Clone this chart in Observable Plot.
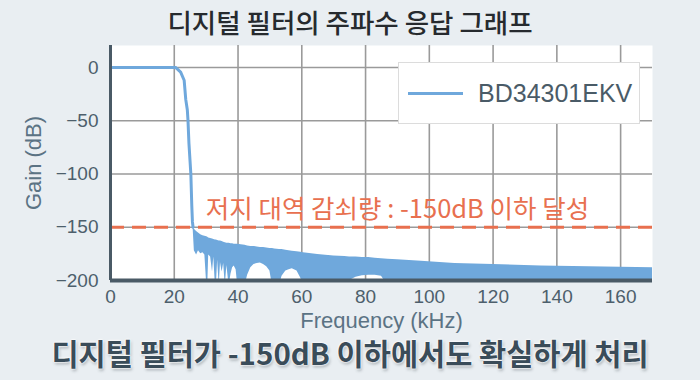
<!DOCTYPE html>
<html>
<head>
<meta charset="utf-8">
<script src="https://cdn.jsdelivr.net/npm/d3@7"></script>
<script src="https://cdn.jsdelivr.net/npm/@observablehq/plot@0.6"></script>
<style>
  html, body { margin: 0; padding: 0; }
  body { width: 700px; height: 380px; background: #e9eef2; position: relative; overflow: hidden; }
  #chart { position: absolute; left: 0; top: 0; }
  .title { position: absolute; left: 0; width: 700px; top: 5px; text-align: center;
    font-family: "Noto Sans CJK KR", sans-serif; font-weight: 500; font-size: 26.5px; color: #262a2e; line-height: 34px; }
  .caption { position: absolute; left: 0; width: 700px; top: 337px; text-align: center;
    font-family: "Noto Sans CJK KR", sans-serif; font-weight: 700; font-size: 29.5px; color: #3a4c59; line-height: 30px;
    text-shadow: 0 0 2px #fff, 0 0 2px #fff, 0 0 3px #fff, 1px 2px 3px rgba(60,70,80,0.45); }
  .legend { position: absolute; left: 398px; top: 62px; width: 242px; height: 62px; background: #fff;
    border: 1px solid #dcdcdc; box-sizing: border-box; }
  .legend .sw { position: absolute; left: 9px; top: 29px; width: 55px; height: 3px; background: #6fa8dc; }
  .legend .lb { position: absolute; left: 79px; top: 14px; font-family: "Liberation Sans", Arial, sans-serif;
    font-size: 25px; color: #4a5b67; line-height: 32px; }
</style>
</head>
<body>
<div id="chart"></div>
<div class="title">디지털 필터의 주파수 응답 그래프</div>
<div class="legend"><div class="sw"></div><div class="lb">BD34301EKV</div></div>
<div class="caption">디지털 필터가 -150dB 이하에서도 확실하게 처리</div>
<script>
// ---- data ----
const seriesName = "BD34301EKV";
const xTicks = [0, 20, 40, 60, 80, 100, 120, 140, 160];
const yTicks = [0, -50, -100, -150, -200];
// passband + transition (kHz, dB)
const passFreq = [0, 20.4, 22.0, 23.1, 23.6, 24.1, 24.3, 24.6, 25.2, 25.5, 25.7, 25.9];
const passGain = [0, 0, -4.4, -12, -30, -40, -49.5, -71, -100, -130, -145, -150];
// stopband: dense ripple drawn as band between lower and upper envelope
const stopFreq = [25.9, 26.3, 27, 27.6, 28.3, 29, 29.6, 30.2, 30.5, 30.8, 31.4, 32, 32.4, 32.9, 33.2, 33.6, 34.1, 34.5, 35, 35.5, 36, 36.5, 37.2, 37.8, 38.3, 38.8, 39.4, 39.9, 41, 42.2, 43, 44, 45, 46, 47, 48, 49, 50, 50.8, 51.5, 53, 53.8, 55, 56, 57, 58.5, 59.7, 60.5, 65, 70, 73.5, 75, 77, 79, 81, 83, 85, 87, 90, 97.5, 108, 120, 135, 150, 170];
const stopUpper = [-150, -152, -154, -155.5, -157, -158, -158.5, -159, -159.5, -160, -160.5, -161, -161.5, -162, -162, -162.5, -163, -163, -163.5, -164, -164.5, -165, -165, -165.5, -165.5, -166, -166, -166, -166.5, -167, -167.5, -168, -168, -168.5, -169, -169, -169.5, -170, -170, -170.5, -171, -171, -171.5, -172, -172.5, -173, -173.5, -174, -175.5, -177, -177.5, -178, -178, -178.5, -178.5, -179, -179.5, -180, -180.5, -182, -184, -185, -186.5, -187, -188];
const stopLower = [-150, -172, -176, -172, -175, -174, -176, -205, -205, -176, -178, -192, -178, -205, -205, -181, -205, -183, -192, -184, -205, -186, -205, -194, -188, -186.5, -190, -205, -205, -205, -195, -188, -185, -184, -183.5, -185, -187, -191, -205, -205, -205, -196, -191, -190, -189, -191, -198, -205, -205, -205, -205, -200, -197, -195.5, -195, -195, -196, -205, -205, -205, -205, -205, -205, -205, -205];
const limitGain = -150;
const annoText = "저지 대역 감쇠량 : -150dB 이하 달성";
const annoFreq = 29.9;
const xLabel = "Frequency (kHz)";
const yLabel = "Gain (dB)";

// ---- build tables ----
const pass = passFreq.map((f, i) => ({f, g: passGain[i]}));
const stop = stopFreq.map((f, i) => ({f, hi: stopUpper[i], lo: stopLower[i]}));

const blue = "#6fa8dc";
const orange = "#e8704f";
const axisDark = "#4a5a66";
const font = "'Liberation Sans', Arial, sans-serif";

const chart = Plot.plot({
  width: 700,
  height: 380,
  marginTop: 45,
  marginBottom: 100,
  marginLeft: 110,
  marginRight: 48,
  style: {background: "transparent", fontFamily: font, fontSize: "19px", color: "#4d5f6c"},
  x: {domain: [0, 170]},
  y: {domain: [-200, 20.6]},
  marks: [
    Plot.frame({fill: "#ffffff", stroke: "none"}),
    Plot.gridX(xTicks, {stroke: "#9a9a9a", strokeOpacity: 1, strokeWidth: 1.6}),
    Plot.gridY(yTicks.filter(t => t > -200), {stroke: "#9a9a9a", strokeOpacity: 1, strokeWidth: 1.6}),
    Plot.areaY(stop, {x: "f", y1: "lo", y2: "hi", fill: blue, curve: "linear", clip: true}),
    Plot.line(pass, {x: "f", y: "g", stroke: blue, strokeWidth: 3, clip: true}),
    Plot.ruleY([limitGain], {stroke: orange, strokeWidth: 3, strokeDasharray: "14,8"}),
    Plot.text([{f: annoFreq, g: limitGain, t: annoText}], {x: "f", y: "g", text: "t", dy: -17, textAnchor: "start",
      lineAnchor: "middle", fill: orange, fontSize: 25.5, fontFamily: "'Noto Sans CJK KR', sans-serif"}),
    Plot.axisX(xTicks, {tickSize: 0, tickPadding: 9, label: null, fontSize: 19}),
    Plot.axisY(yTicks, {tickSize: 0, tickPadding: 12, label: null, fontSize: 19}),
    Plot.ruleX([0], {stroke: axisDark, strokeWidth: 3}),
    Plot.ruleY([-200], {stroke: axisDark, strokeWidth: 4}),
    Plot.text([xLabel], {frameAnchor: "bottom", dy: 40, lineAnchor: "middle", textAnchor: "middle", text: d => d, fontSize: 22, fill: "#5b7384", fontFamily: font}),
    Plot.text([yLabel], {frameAnchor: "left", dx: -77, rotate: -90, lineAnchor: "middle", textAnchor: "middle", text: d => d, fontSize: 22, fill: "#5b7384", fontFamily: font})
  ]
});
document.getElementById("chart").appendChild(chart);
</script>
</body>
</html>
